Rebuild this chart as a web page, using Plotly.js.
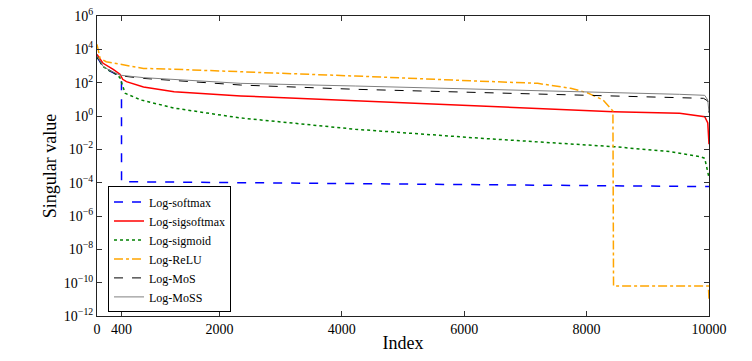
<!DOCTYPE html>
<html>
<head>
<meta charset="utf-8">
<script src="https://cdn.plot.ly/plotly-3.0.1.min.js"></script>
<style>
  html, body { margin: 0; padding: 0; background: #fff; }
  #plot { width: 752px; height: 361px; }
</style>
</head>
<body>
<div id="plot"></div>
<script>
// singular values (index -> value)
var softmaxX = [0, 100, 215, 315, 375, 400, 401, 1000, 4000, 6600, 10000];
var softmaxY = [3.6e3, 9.1e2, 5.0e2, 3.2e2, 1.8e2, 1.5e2, 1.15e-4, 1.1e-4, 9e-5, 8e-5, 5.8e-5];

var sigsoftmaxX = [0, 100, 265, 375, 420, 480, 760, 1260, 2350, 4220, 6270, 8440, 9520, 9930, 9980, 10000];
var sigsoftmaxY = [5e3, 1.45e3, 6.3e2, 3.2e2, 1.6e2, 1.15e2, 55, 29, 16, 8.3, 4.0, 1.8, 1.45, 0.9, 0.38, 0.02];

var sigmoidX = [0, 100, 215, 315, 375, 430, 460, 720, 1260, 1800, 2350, 4220, 6270, 8440, 9370, 9860, 9930, 10000];
var sigmoidY = [3.6e3, 9.1e2, 5.0e2, 3.2e2, 2.0e2, 58, 23, 9.1, 3.0, 1.5, 0.76, 0.16, 0.046, 0.0145, 0.0072, 0.0036, 0.0029, 2e-4];

var reluX = [0, 50, 150, 480, 760, 1150, 2350, 4220, 6100, 7200, 7740, 8010, 8270, 8410, 8430, 8440, 9990, 10000];
var reluY = [2e4, 2.9e3, 1.8e3, 1.05e3, 7.2e2, 6.6e2, 4.6e2, 2.5e2, 1.3e2, 91, 46, 25, 9.1, 2.3, 2.0, 6.3e-11, 6.3e-11, 1e-11];

var mosX = [0, 100, 215, 375, 760, 2350, 4220, 6270, 9910, 9980, 10000];
var mosY = [3.6e3, 9.1e2, 5.0e2, 2.6e2, 1.8e2, 72, 40, 25, 11.5, 8, 1.6];

var mossX = [0, 100, 215, 380, 760, 2350, 4220, 6270, 9520, 9930, 9980, 10000];
var mossY = [4e3, 9.5e2, 5.2e2, 2.8e2, 2.0e2, 91, 63, 42, 20, 17.4, 9.1, 1.6];

var xTicks = [0, 400, 2000, 4000, 6000, 8000, 10000];
var yExps = [-12, -10, -8, -6, -4, -2, 0, 2, 4, 6];

var yTickVals = yExps.map(function (e) { return Math.pow(10, e); });
var yTickText = yExps.map(function (e) {
  return '10<sup>' + String(e).replace('-', '\u2212') + '</sup>';
});

var data = [
  {x: softmaxX, y: softmaxY, mode: 'lines', name: 'Log-softmax',
   line: {color: '#0000ff', width: 1.5, dash: 'dash'}},
  {x: sigsoftmaxX, y: sigsoftmaxY, mode: 'lines', name: 'Log-sigsoftmax',
   line: {color: '#ff0000', width: 1.5}},
  {x: sigmoidX, y: sigmoidY, mode: 'lines', name: 'Log-sigmoid',
   line: {color: '#008000', width: 1.5, dash: 'dot'}},
  {x: reluX, y: reluY, mode: 'lines', name: 'Log-ReLU',
   line: {color: '#ffa500', width: 1.5, dash: 'dashdot'}},
  {x: mosX, y: mosY, mode: 'lines', name: 'Log-MoS',
   line: {color: '#000000', width: 1, dash: 'dash'}},
  {x: mossX, y: mossY, mode: 'lines', name: 'Log-MoSS',
   line: {color: '#808080', width: 1}}
];

var layout = {
  width: 752, height: 361,
  margin: {l: 97, r: 43, t: 16, b: 45},
  paper_bgcolor: '#fff', plot_bgcolor: '#fff',
  font: {family: 'Liberation Serif', size: 14, color: '#000'},
  showlegend: true,
  legend: {
    x: 0.018, y: 0.012, xanchor: 'left', yanchor: 'bottom',
    bordercolor: '#000', borderwidth: 1, bgcolor: '#fff',
    font: {size: 12}, itemwidth: 30
  },
  xaxis: {
    range: [0, 10000], tickvals: xTicks, ticktext: xTicks.map(String),
    ticks: 'inside', ticklen: 5, tickcolor: '#333',
    showline: true, linecolor: '#222', linewidth: 1, mirror: 'allticks',
    showgrid: false, zeroline: false, automargin: false,
    title: {text: 'Index', font: {size: 18}, standoff: 0}
  },
  yaxis: {
    type: 'log', range: [-12, 6], tickvals: yTickVals, ticktext: yTickText,
    ticks: 'inside', ticklen: 5, tickcolor: '#333',
    showline: true, linecolor: '#222', linewidth: 1, mirror: 'allticks',
    showgrid: false, zeroline: false, automargin: false,
    title: {text: 'Singular value', font: {size: 18}, standoff: 2}
  }
};

Plotly.newPlot('plot', data, layout, {displayModeBar: false, staticPlot: true});
</script>
</body>
</html>
